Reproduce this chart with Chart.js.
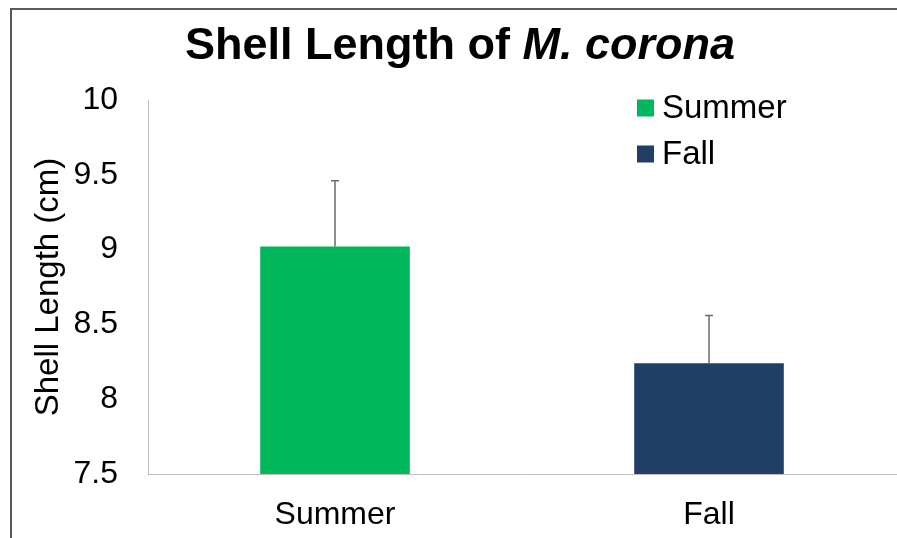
<!DOCTYPE html>
<html>
<head>
<meta charset="utf-8">
<script src="https://cdn.jsdelivr.net/npm/chart.js@4/dist/chart.umd.min.js"></script>
<style>
  html, body { margin: 0; padding: 0; background: #fff; }
  #wrap { position: relative; width: 897px; height: 538px; }
  #frame { position: absolute; left: 10px; top: 8px; right: -10px; bottom: -10px;
           border: 2px solid #5a5a5a; pointer-events: none; }
</style>
</head>
<body>
<div id="wrap">
  <canvas id="shell" width="897" height="538"></canvas>
  <div id="frame"></div>
</div>
<script>
// データ
let seasons = ["Summer", "Fall"];
let meanLength = [9.02, 8.24];
let errUpper = [0.44, 0.32];
let barColors = ['#00b75b', '#203f66'];
let yTicks = [7.5, 8, 8.5, 9, 9.5, 10];

let fontName = '"Liberation Sans", Arial, sans-serif';

// タイトル（M. corona だけイタリック）
const titlePlugin = {
  id: 'titlePlugin',
  afterDraw(chart) {
    const ctx = chart.ctx;
    ctx.save();
    ctx.fillStyle = '#000';
    ctx.textBaseline = 'middle';
    ctx.font = 'bold 45px ' + fontName;
    const a = 'Shell Length of ';
    const wa = ctx.measureText(a).width;
    ctx.font = 'italic bold 45px ' + fontName;
    const b = 'M. corona';
    const wb = ctx.measureText(b).width;
    let x = 460 - (wa + wb) / 2;
    ctx.textAlign = 'left';
    ctx.font = 'bold 45px ' + fontName;
    ctx.fillText(a, x, 47);
    ctx.font = 'italic bold 45px ' + fontName;
    ctx.fillText(b, x + wa, 47);
    ctx.restore();
  }
};

// 誤差棒（上だけ）
const errorBarPlugin = {
  id: 'errorBars',
  afterDatasetsDraw(chart) {
    const ctx = chart.ctx;
    const xs = chart.scales.x, ys = chart.scales.y;
    ctx.save();
    ctx.strokeStyle = '#6b6b6b';
    ctx.lineWidth = 1.5;
    seasons.forEach((s, i) => {
      const x = xs.getPixelForValue(i);
      const y0 = ys.getPixelForValue(meanLength[i]);
      const y1 = ys.getPixelForValue(meanLength[i] + errUpper[i]);
      ctx.beginPath();
      ctx.moveTo(x, y0);
      ctx.lineTo(x, y1);
      ctx.moveTo(x - 4, y1);
      ctx.lineTo(x + 4, y1);
      ctx.stroke();
    });
    ctx.restore();
  }
};

// 凡例（右上）
const legendPlugin = {
  id: 'legendPlugin',
  afterDraw(chart) {
    const ctx = chart.ctx;
    ctx.save();
    ctx.font = '33px ' + fontName;
    ctx.textBaseline = 'middle';
    ctx.textAlign = 'left';
    chart.data.datasets.forEach((ds, i) => {
      const cy = 108 + i * 46;
      ctx.fillStyle = ds.backgroundColor;
      ctx.fillRect(637, cy - 8.5, 17, 17);
      ctx.fillStyle = '#000';
      ctx.fillText(ds.label, 662, cy + 1);
    });
    ctx.restore();
  }
};

let context = document.querySelector("#shell").getContext('2d');
new Chart(context, {
  type: 'bar',
  data: {
    labels: seasons,
    datasets: seasons.map((s, i) => ({
      label: s,
      data: seasons.map((_, j) => j === i ? meanLength[i] : null),
      backgroundColor: barColors[i],
      barPercentage: 0.4,
      categoryPercentage: 1.0,
      grouped: false
    }))
  },
  options: {
    responsive: false,
    animation: false,
    layout: { padding: { top: 100, left: 0, right: 1, bottom: 0 } },
    plugins: {
      legend: { display: false },
      title: { display: false },
      tooltip: { enabled: false }
    },
    scales: {
      x: {
        grid: { display: false, drawTicks: false },
        border: { display: true, color: '#bfbfbf', width: 1 },
        ticks: { color: '#000', font: { family: fontName, size: 32 }, padding: 22 },
        afterFit(scale) { scale.height = 64; }
      },
      y: {
        min: 7.5,
        max: 10,
        grid: { display: false, drawTicks: false },
        border: { display: true, color: '#bfbfbf', width: 1 },
        afterBuildTicks(scale) { scale.ticks = yTicks.map(v => ({ value: v })); },
        ticks: {
          color: '#000',
          font: { family: fontName, size: 32 },
          padding: 30,
          callback: v => String(v)
        },
        title: {
          display: true,
          text: 'Shell Length (cm)',
          color: '#000',
          font: { family: fontName, size: 33 },
          padding: { top: 29, bottom: 0 }
        },
        afterFit(scale) { scale.width = 148; }
      }
    }
  },
  plugins: [errorBarPlugin, titlePlugin, legendPlugin]
});
</script>
</body>
</html>
